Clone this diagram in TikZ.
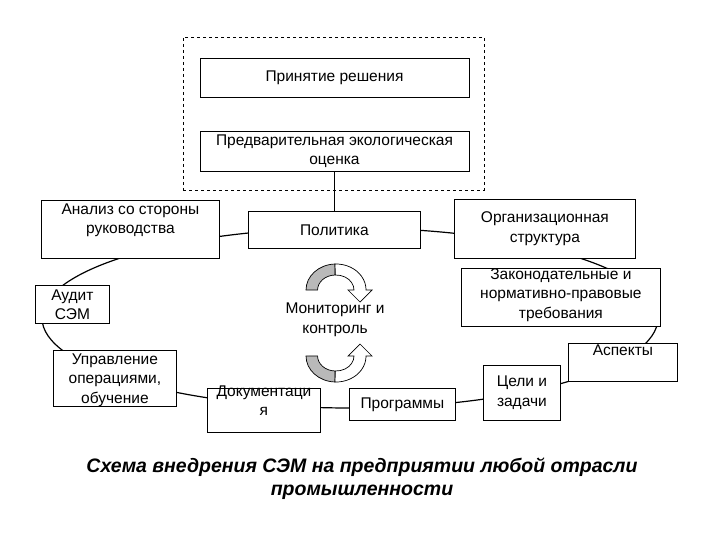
\documentclass[tikz,border=0pt]{standalone}
\usepackage{fontspec}
\setmainfont{Liberation Sans}
\begin{document}
\begin{tikzpicture}[x=1pt,y=-1pt,
  txt/.style={align=center,font=\fontsize{15.5}{19.5}\selectfont},
  box/.style={draw,fill=white,line width=0.8pt,align=center,inner sep=2pt,font=\fontsize{15.5}{19.5}\selectfont},
  arr/.style={line width=0.7pt}]
\useasboundingbox (0,0) rectangle (720,540);
% cycle
\draw[line width=1.2pt] (350,318) ellipse [x radius=308, y radius=90];
% dashed frame
\node[draw,dashed,minimum width=301pt,minimum height=153pt] (frame) at (333.5,113.5) {};
\node[box,minimum width=269pt,minimum height=39pt] (pr) at (334.5,77.5) {Принятие решения};
\node[box,minimum width=269pt,minimum height=40pt] (pe) at (334.5,151) {Предварительная экологическая\\оценка};
\coordinate (pes) at (334.5,211);
\draw[line width=0.8pt] (pe.south) -- (pes);
\node[box,minimum width=178pt,minimum height=58pt,anchor=north west] (an) at (41,200) {};
\node[txt,anchor=north] at (an.north) {Анализ со стороны\\руководства};
\node[box,minimum width=172pt,minimum height=37pt,anchor=north west] (pol) at (248,211) {Политика};
\node[box,minimum width=181pt,minimum height=59pt,anchor=north west] (org) at (454,199) {Организационная\\структура};
\node[box,minimum width=74pt,minimum height=38pt,anchor=north west] (aud) at (35,285) {};
\node[txt,anchor=north] at ([yshift=-1pt]aud.north) {Аудит\\СЭМ};
\node[box,minimum width=199pt,minimum height=58pt,anchor=north west] (zak) at (461,268) {};
\node[txt,anchor=north] at ([yshift=3pt]zak.north) {Законодательные и\\нормативно-правовые\\требования};
\node[box,minimum width=123pt,minimum height=56pt,anchor=north west] (upr) at (53,350) {};
\node[txt,anchor=north] at (upr.north) {Управление\\операциями,\\обучение};
\node[box,minimum width=109pt,minimum height=38pt,anchor=north west] (asp) at (568,343) {};
\node[txt,anchor=north] at ([yshift=2pt]asp.north) {Аспекты};
\node[box,minimum width=77pt,minimum height=55pt,anchor=north west] (cel) at (483,365) {Цели и\\задачи};
\node[box,minimum width=113pt,minimum height=44pt,anchor=north west] (doc) at (207,388) {};
\node[txt,anchor=north] at ([yshift=6pt]doc.north) {Документаци\\я};
\node[box,minimum width=106pt,minimum height=32pt,anchor=north west] (prg) at (349,388) {Программы};
\node[txt] (mon) at (335,320) {Мониторинг и\\контроль};
% upper curved arrow (center 336,290)
\filldraw[arr,fill=gray!55] (306,290) arc[start angle=180,end angle=268,x radius=30,y radius=26] -- ++(0,11) arc[start angle=268,end angle=180,x radius=18,y radius=15] -- cycle;
\filldraw[arr,fill=white] (335,264) arc[start angle=268,end angle=360,x radius=30,y radius=26] -- (372,290) -- (360,302) -- (348,290) -- (354,290) arc[start angle=360,end angle=268,x radius=18,y radius=15] -- cycle;
% lower curved arrow (center 336,356)
\filldraw[arr,fill=gray!55] (306,356) arc[start angle=180,end angle=92,x radius=30,y radius=26] -- ++(0,-11) arc[start angle=92,end angle=180,x radius=18,y radius=15] -- cycle;
\filldraw[arr,fill=white] (335,382) arc[start angle=92,end angle=0,x radius=30,y radius=26] -- (372,356) -- (360,344) -- (348,356) -- (354,356) arc[start angle=0,end angle=92,x radius=18,y radius=15] -- cycle;
\node[align=center,font=\bfseries\itshape\fontsize{19.5}{23}\selectfont] (cap) at (362,479) {Схема внедрения СЭМ на предприятии любой отрасли\\промышленности};
\end{tikzpicture}
\end{document}
